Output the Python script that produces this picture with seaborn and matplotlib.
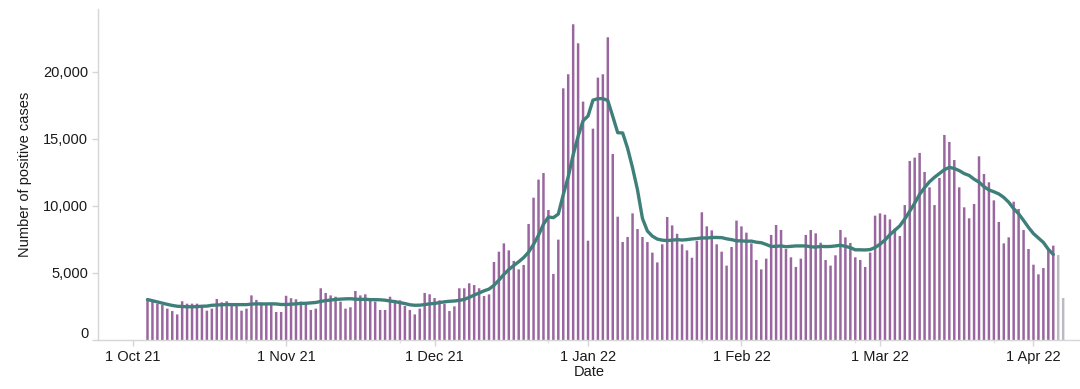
import matplotlib
matplotlib.use("Agg")
import matplotlib.pyplot as plt
import matplotlib.transforms as mtransforms
import numpy as np
import pandas as pd
import seaborn as sns
from matplotlib.ticker import FuncFormatter, FixedLocator

# ---------------- data ----------------
first_bar_date = "2021-10-04"
axis_origin = "2021-10-01"

cases_oct = [3040, 2860, 2710, 2610, 2340, 2160, 1910, 2890, 2710, 2710, 2710, 2560, 2190, 2340,
             3060, 2810, 2890, 2640, 2540, 2190, 2340, 3330, 2990, 2790, 2640, 2640, 2090, 2090]
cases_nov = [3300, 3120, 3040, 2860, 2710, 2240, 2340, 3860, 3510, 3330, 3230, 2860, 2340, 2440,
             3660, 3330, 3410, 3040, 2860, 2240, 2240, 3230, 2990, 2960, 2540, 2240, 1910, 2340,
             3510, 3410]
cases_dec = [3130, 2960, 2710, 2160, 2510, 3860, 3860, 4230, 4100, 3860, 3280, 3400, 5820, 6590,
             7210, 6690, 5900, 5270, 5600, 8660, 10620, 11970, 12460, 9700, 4930, 7490, 18780,
             19830, 23560, 22140, 17790]
cases_jan = [7410, 15770, 19580, 19830, 22590, 13880, 9200, 7310, 7690, 9450, 8280, 7690, 7310,
             6520, 5790, 7140, 9180, 8550, 7930, 7140, 6690, 6140, 7390, 9530, 8480, 8180, 7140,
             6590, 5550, 6940, 8910]
cases_feb = [8480, 8010, 7210, 5970, 5270, 6070, 7840, 8580, 8210, 6790, 6170, 5450, 6070, 7840,
             8210, 7960, 7260, 5970, 5550, 6320, 8210, 7660, 7240, 6170, 5970, 5450, 6520, 9280]
cases_mar = [9450, 9350, 9000, 8310, 7760, 10070, 13360, 13610, 13960, 12540, 11390, 10070, 12090,
             15300, 14780, 13430, 11390, 9900, 9080, 10150, 13710, 12390, 11770, 10420, 8810, 7210,
             7660, 10320, 9780, 8210, 6790]
cases_apr = [5620, 4900, 5370, 6720, 7040, 6340, 3130]
incomplete_days = 2  # last bars drawn in grey

avg_oct = [3020, 2930, 2840, 2750, 2660, 2580, 2520, 2500, 2480, 2480, 2490, 2520, 2530, 2590,
           2610, 2630, 2650, 2640, 2640, 2640, 2640, 2680, 2700, 2690, 2690, 2700, 2690, 2650]
avg_nov = [2650, 2670, 2700, 2730, 2740, 2770, 2800, 2880, 2940, 2980, 3030, 3050, 3070, 3080,
           3050, 3030, 3040, 3010, 3010, 3000, 2970, 2910, 2860, 2790, 2720, 2630, 2590, 2600,
           2640, 2700]
avg_dec = [2730, 2790, 2850, 2890, 2910, 2960, 3030, 3180, 3350, 3510, 3670, 3800, 4080, 4470,
           4890, 5260, 5560, 5840, 6150, 6560, 7140, 7820, 8640, 9180, 9130, 9400, 10850, 12170,
           13820, 15200, 16360]
avg_jan = [16710, 17900, 18010, 18010, 17870, 16690, 15470, 15450, 14300, 12850, 11200, 9070,
           8130, 7750, 7530, 7450, 7420, 7450, 7490, 7460, 7490, 7540, 7570, 7620, 7610, 7650,
           7650, 7640, 7550, 7490, 7400]
avg_feb = [7400, 7370, 7380, 7300, 7260, 7130, 6980, 6990, 7020, 6960, 6990, 7020, 7020, 7020,
           6960, 6930, 6990, 6970, 6980, 7020, 7070, 6990, 6890, 6730, 6730, 6720, 6750, 6900]
avg_mar = [7150, 7460, 7860, 8190, 8520, 9030, 9610, 10210, 10870, 11370, 11810, 12140, 12430,
           12710, 12880, 12800, 12640, 12420, 12280, 12000, 11780, 11440, 11200, 11060, 10900,
           10640, 10280, 9800, 9420, 8920, 8400]
avg_apr = [7940, 7610, 7280, 6770, 6380]

tick_dates = ["2021-10-01", "2021-11-01", "2021-12-01", "2022-01-01",
              "2022-02-01", "2022-03-01", "2022-04-01"]
tick_labels = ["1 Oct 21", "1 Nov 21", "1 Dec 21", "1 Jan 22", "1 Feb 22", "1 Mar 22", "1 Apr 22"]
minor_tick_dates = ["2021-10-24", "2021-11-24", "2021-12-24", "2022-01-24",
                    "2022-02-24", "2022-03-24"]
y_ticks = [0, 5000, 10000, 15000, 20000]

# ---------------- build tables ----------------
cases = cases_oct + cases_nov + cases_dec + cases_jan + cases_feb + cases_mar + cases_apr
avg = avg_oct + avg_nov + avg_dec + avg_jan + avg_feb + avg_mar + avg_apr
origin = pd.Timestamp(axis_origin)
dates = pd.date_range(first_bar_date, periods=len(cases), freq="D")
day_num = (dates - origin).days.astype(float)
status = ["complete"] * (len(cases) - incomplete_days) + ["incomplete"] * incomplete_days
bars = pd.DataFrame({"day": day_num, "cases": cases, "status": status})
line = pd.DataFrame({"day": day_num[:len(avg)], "avg": avg})

tick_pos = [(pd.Timestamp(d) - origin).days for d in tick_dates]
minor_pos = [(pd.Timestamp(d) - origin).days for d in minor_tick_dates]

# ---------------- plot ----------------
sns.set_theme(style="white")
plt.rcParams['font.family'] = ['Liberation Sans', 'DejaVu Sans']

purple = "#a05ca9"
grey = "#bbb7c4"
teal = "#3f7f7a"
axis_grey = "#d6d6d6"

fig = plt.figure(figsize=(10.8, 3.89), dpi=100)
ax = fig.add_axes([98 / 1080, 49 / 389, 982 / 1080, 331 / 389])

sns.barplot(data=bars, x="day", y="cases", hue="status",
            palette={"complete": purple, "incomplete": grey},
            native_scale=True, dodge=False, width=0.5, legend=False,
            linewidth=0, ax=ax)
for p in ax.patches:
    p.set_snap(False)
    p.set_antialiased(True)

sns.lineplot(data=line, x="day", y="avg", color=teal, linewidth=2.4, ax=ax,
             solid_capstyle="round", solid_joinstyle="round")

ax.set_xlim(-7.0, 191.4)
ax.set_ylim(0, 24700)

ax.xaxis.set_major_locator(FixedLocator(tick_pos))
ax.set_xticklabels(tick_labels)
ax.xaxis.set_minor_locator(FixedLocator(minor_pos))
ax.set_yticks(y_ticks)
ax.yaxis.set_major_formatter(FuncFormatter(lambda v, p: f"{int(v):,}"))

ax.tick_params(axis="both", which="major", labelsize=10.5, colors=axis_grey,
               labelcolor="#1a1a1a", length=4, width=1, bottom=True, left=True)
ax.tick_params(axis="x", which="minor", length=2.5, width=1, colors="#e4e4e4", bottom=True)
ax.tick_params(axis="x", pad=3)
ax.tick_params(axis="y", pad=3)

for s in ["top", "right"]:
    ax.spines[s].set_visible(False)
for s in ["left", "bottom"]:
    ax.spines[s].set_color(axis_grey)
    ax.spines[s].set_linewidth(1)

ax.set_xlabel("Date", fontsize=10.5, color="#1a1a1a", labelpad=1)
ax.set_ylabel("Number of positive cases", fontsize=10.5, color="#1a1a1a", labelpad=8)
ax.grid(False)

# the "0" label sits a little above its tick in the reference
fig.canvas.draw()
zero_lab = ax.get_yticklabels()[0]
zero_lab.set_transform(zero_lab.get_transform() +
                       mtransforms.ScaledTranslation(0, 8 / 100, fig.dpi_scale_trans))

fig.savefig("out.png", dpi=100)
